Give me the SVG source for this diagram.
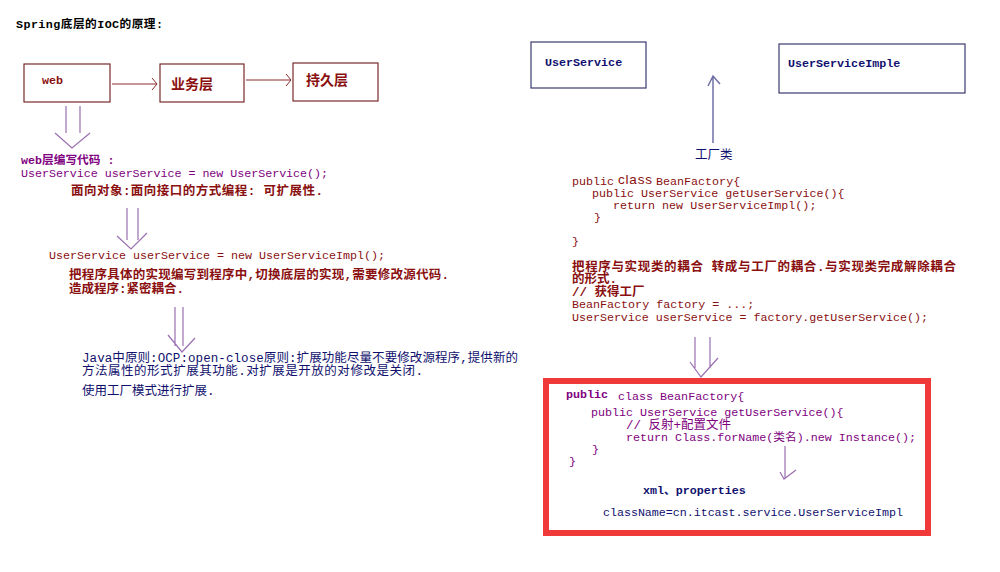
<svg xmlns="http://www.w3.org/2000/svg" width="1000" height="572" viewBox="0 0 1000 572">
<style>
text{font-family:"Liberation Mono","Noto Sans CJK SC",monospace;font-size:11.7px;}
.b{font-weight:bold;}
.cj{font-size:12.5px;}
.red{fill:#8a0f0f;}
.pur{fill:#800080;}
.nav{fill:#10106e;}
.blk{fill:#000;}
.boxr{fill:none;stroke:#7a2a2a;stroke-width:1.2;}
.boxb{fill:none;stroke:#3a3a6e;stroke-width:1.2;}
.ar{fill:none;stroke:#8a2a2a;stroke-width:1;}
.dbl{fill:none;stroke:#9a70b0;stroke-width:1.2;}
.up{fill:none;stroke:#7070a8;stroke-width:1.5;}
</style>
<rect width="1000" height="572" fill="#fff"/>
<text x="16" y="28" class="blk b" textLength="147">Spring底层的IOC的原理:</text>

<g id="web"><rect x="24" y="64" width="86" height="38" class="boxr"/><text x="42" y="84" class="red b">web</text></g>
<g id="biz"><rect x="160" y="64" width="84" height="38" class="boxr"/><text x="171" y="89" class="red cj b" style="font-size:14px">业务层</text></g>
<g id="persist"><rect x="293" y="63" width="85" height="38" class="boxr"/><text x="306" y="85" class="red cj b" style="font-size:14px">持久层</text></g>
<g id="userservice"><rect x="531" y="42" width="115" height="46" class="boxb"/><text x="545" y="66" class="nav b">UserService</text></g>
<g id="impl"><rect x="779" y="44" width="186" height="49" class="boxb"/><text x="788" y="67" class="nav b">UserServiceImple</text></g>

<g id="connectors">
<path class="ar" d="M112 84H157M152 78L157 84L152 90"/>
<path class="ar" d="M246 80H291M286 74L291 80L286 86"/>
<path class="dbl" d="M66 106V133M80 106V133M55 133L72 148L90 133"/>
<path class="dbl" d="M127 208V240M138 208V240M117 236L131 249L147 233"/>
<path class="dbl" d="M175 307V346M183 307V346M168 335L182 352L195 338"/>
<path class="up" d="M713 143V76M708 86L713 76L720 84"/>
<path class="dbl" d="M695 337V368M710 337V368M690 362L701 377L718 358"/>
<path class="dbl" d="M785 446V478M780 472L784 479L796 470"/>
</g>

<g id="left-text">
<text x="21" y="164" class="pur b">web层编写代码 :</text>
<text x="21" y="177" class="pur" textLength="307">UserService userService = new UserService();</text>
<text x="71" y="195" class="red cj b" textLength="252">面向对象:面向接口的方式编程: 可扩展性.</text>
<text x="49" y="259" class="red" textLength="336">UserService userService = new UserServiceImpl();</text>
<text x="69" y="279" class="red cj b" textLength="380">把程序具体的实现编写到程序中,切换底层的实现,需要修改源代码.</text>
<text x="69" y="293" class="red cj b">造成程序:紧密耦合.</text>
<text x="82" y="362" class="nav cj" textLength="436">Java中原则:OCP:open-close原则:扩展功能尽量不要修改源程序,提供新的</text>
<text x="82" y="375" class="nav cj" textLength="341">方法属性的形式扩展其功能.对扩展是开放的对修改是关闭.</text>
<text x="82" y="395" class="nav cj">使用工厂模式进行扩展.</text>
</g>

<g id="right-text">
<text x="695" y="159" class="nav cj">工厂类</text>
<text x="572" y="185" class="red">public</text>
<text x="618" y="184" class="red" style="font-family:'Liberation Sans',sans-serif;font-size:13.5px" textLength="34">class</text>
<text x="656" y="185" class="red">BeanFactory{</text>
<text x="592" y="197" class="red">public UserService getUserService(){</text>
<text x="613" y="209" class="red">return new UserServiceImpl();</text>
<text x="594" y="221" class="red">}</text>
<text x="572" y="245" class="red">}</text>
<text x="572" y="271" class="red cj b" textLength="384">把程序与实现类的耦合 转成与工厂的耦合.与实现类完成解除耦合</text>
<text x="572" y="283" class="red cj b">的形式.</text>
<text x="572" y="296" class="red cj b">// 获得工厂</text>
<text x="572" y="308" class="red">BeanFactory factory = ...;</text>
<text x="572" y="321" class="red" textLength="356">UserService userService = factory.getUserService();</text>
</g>

<g id="factory-box">
<rect x="546" y="381" width="382" height="152" fill="none" stroke="#f03a3a" stroke-width="6"/>
<text x="566" y="398" class="pur b">public</text>
<text x="618" y="400" class="pur">class BeanFactory{</text>
<text x="591" y="416" class="pur">public UserService getUserService(){</text>
<text x="626" y="429" class="pur cj">// 反射+配置文件</text>
<text x="626" y="441" class="pur" textLength="290">return Class.forName(类名).new Instance();</text>
<text x="592" y="453" class="pur">}</text>
<text x="569" y="465" class="pur">}</text>
<text x="643" y="494" class="nav b">xml、properties</text>
<text x="603" y="516" class="nav" textLength="300">className=cn.itcast.service.UserServiceImpl</text>
</g>
</svg>
